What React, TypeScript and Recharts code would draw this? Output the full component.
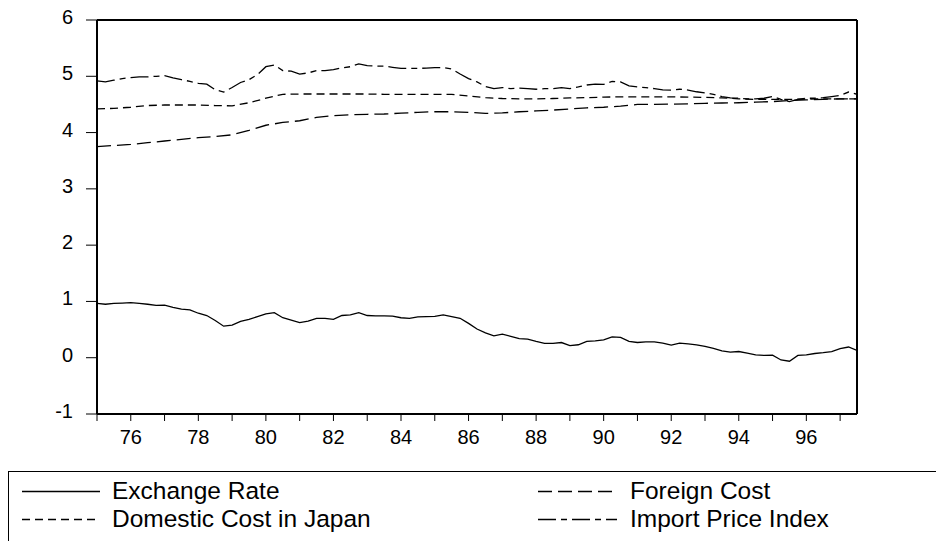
import React from "react";
import { LineChart, Line, XAxis, YAxis, ReferenceLine } from "recharts";

// quarterly series start in 1975Q1, half-yearly ones in 1975H1
const START_YEAR = 1975;

const exchangeRate = [
  0.967, 0.95, 0.965, 0.97, 0.978, 0.965, 0.95, 0.93,
  0.935, 0.896, 0.865, 0.85, 0.79, 0.75, 0.66, 0.56,
  0.58, 0.645, 0.68, 0.73, 0.78, 0.8, 0.71, 0.67,
  0.625, 0.65, 0.7, 0.7, 0.68, 0.75, 0.76, 0.8,
  0.75, 0.745, 0.745, 0.74, 0.71, 0.7, 0.725, 0.73,
  0.735, 0.76, 0.73, 0.7, 0.61, 0.51, 0.44, 0.39,
  0.42, 0.38, 0.34, 0.33, 0.29, 0.255, 0.255, 0.27,
  0.215, 0.23, 0.29, 0.3, 0.315, 0.37, 0.36, 0.29,
  0.27, 0.28, 0.28, 0.26, 0.225, 0.26, 0.245, 0.23,
  0.2, 0.165, 0.12, 0.1, 0.11, 0.08, 0.05, 0.04,
  0.045, -0.04, -0.063, 0.04, 0.05, 0.075, 0.09, 0.11,
  0.16, 0.19, 0.13,
];

const importPriceIndex = [
  4.92, 4.9, 4.93, 4.96, 4.975, 4.99, 4.99, 5.0,
  5.01, 4.97, 4.94, 4.91, 4.875, 4.86, 4.76, 4.72,
  4.8, 4.89, 4.94, 5.03, 5.17, 5.2, 5.1, 5.09,
  5.04, 5.06, 5.1, 5.1, 5.12, 5.15, 5.17, 5.22,
  5.19, 5.18, 5.18, 5.16, 5.14, 5.14, 5.14, 5.145,
  5.155, 5.155, 5.13, 5.04, 4.96, 4.9, 4.82, 4.78,
  4.8, 4.78, 4.79, 4.78, 4.77, 4.78, 4.78, 4.8,
  4.78, 4.81, 4.845, 4.86, 4.855, 4.91, 4.9, 4.83,
  4.81, 4.8, 4.78, 4.76, 4.755, 4.77, 4.755, 4.725,
  4.705, 4.68, 4.64, 4.615, 4.61, 4.6, 4.6, 4.61,
  4.64, 4.59, 4.55, 4.59, 4.61, 4.61, 4.62, 4.64,
  4.66, 4.72, 4.68,
];

const domesticCost = [
  4.42, 4.43, 4.45, 4.48, 4.49, 4.49, 4.49, 4.48, 4.475, 4.53,
  4.61, 4.68, 4.685, 4.685, 4.685, 4.685, 4.685, 4.68, 4.68, 4.68,
  4.68, 4.68, 4.65, 4.62, 4.605, 4.6, 4.6, 4.605, 4.615, 4.62,
  4.63, 4.635, 4.635, 4.635, 4.635, 4.63, 4.625, 4.615, 4.6, 4.59,
  4.59, 4.59, 4.595, 4.6, 4.6, 4.6,
];

const foreignCost = [
  3.75, 3.77, 3.79, 3.82, 3.85, 3.88, 3.91, 3.93, 3.96, 4.04,
  4.13, 4.18, 4.21, 4.27, 4.3, 4.315, 4.325, 4.33, 4.345, 4.36,
  4.37, 4.37, 4.36, 4.34, 4.35, 4.37, 4.385, 4.4, 4.42, 4.44,
  4.45, 4.47, 4.5, 4.5, 4.505, 4.51, 4.52, 4.525, 4.53, 4.54,
  4.55, 4.57, 4.58, 4.59, 4.6, 4.6,
];

const yearTicks = [
  1975, 1976, 1977, 1978, 1979, 1980, 1981, 1982, 1983, 1984, 1985, 1986,
  1987, 1988, 1989, 1990, 1991, 1992, 1993, 1994, 1995, 1996, 1997,
];
const valueTicks = [-1, 0, 1, 2, 3, 4, 5, 6];

const FONT = '"Liberation Sans", Arial, sans-serif';

const DASH_DOMESTIC = "8 5";
const DASH_FOREIGN = "14 6";
const DASH_IMPORT = "18 5 6 5";

const quarterly = (vals: number[]) =>
  vals.map((v, i) => ({ t: START_YEAR + i / 4, v }));
const halfYearly = (vals: number[]) =>
  vals.map((v, i) => ({ t: START_YEAR + i / 2, v }));

const YTick = ({ x, y, payload }: any) => (
  <text x={x} y={y} dy={4} textAnchor="end" fontSize={20} fontFamily={FONT} fill="#000">
    {payload.value}
  </text>
);

const Legend = () => (
  <svg
    width={936}
    height={81}
    style={{ position: "absolute", left: 0, top: 460 }}
    fontFamily={FONT}
    fontSize={24.5}
  >
    <rect x={8.5} y={11.5} width={960} height={120} fill="none" stroke="#000" strokeWidth={1} />
    <line x1={22} x2={100} y1={31.5} y2={31.5} stroke="#000" strokeWidth={1.3} />
    <text x={112} y={39}>Exchange Rate</text>
    <line x1={22} x2={100} y1={59.5} y2={59.5} stroke="#000" strokeWidth={1.3} strokeDasharray={DASH_DOMESTIC} />
    <text x={112} y={67}>Domestic Cost in Japan</text>
    <line x1={538} x2={617} y1={31.5} y2={31.5} stroke="#000" strokeWidth={1.3} strokeDasharray={DASH_FOREIGN} />
    <text x={630} y={39}>Foreign Cost</text>
    <line x1={538} x2={617} y1={59.5} y2={59.5} stroke="#000" strokeWidth={1.3} strokeDasharray={DASH_IMPORT} />
    <text x={630} y={67}>Import Price Index</text>
  </svg>
);

export default function App() {
  return (
    <div
      style={{
        position: "absolute",
        left: 0,
        top: 0,
        width: 936,
        height: 541,
        overflow: "hidden",
        background: "#fff",
      }}
    >
      <LineChart width={936} height={541} margin={{ top: 20, right: 79, bottom: 87, left: 0 }}>
        <XAxis
          dataKey="t"
          type="number"
          domain={[1975, 1997.5]}
          ticks={yearTicks}
          interval={0}
          tickFormatter={(v: number) => (v % 2 === 0 ? String(v).slice(2) : "")}
          height={40}
          tickSize={7}
          tickMargin={9}
          axisLine={{ stroke: "#000", strokeWidth: 2 }}
          tickLine={{ stroke: "#000", strokeWidth: 1 }}
          tick={{ fill: "#000", fontSize: 20, fontFamily: FONT }}
          allowDataOverflow
        />
        <YAxis
          type="number"
          domain={[-1, 6]}
          ticks={valueTicks}
          interval={0}
          width={97}
          tickSize={11}
          tickMargin={13}
          axisLine={{ stroke: "#000", strokeWidth: 2 }}
          tickLine={{ stroke: "#000", strokeWidth: 1 }}
          tick={<YTick />}
        />
        <ReferenceLine y={6} stroke="#000" strokeWidth={2} />
        <ReferenceLine x={1997.5} stroke="#000" strokeWidth={2} />
        <Line
          data={quarterly(exchangeRate)}
          dataKey="v"
          name="Exchange Rate"
          type="linear"
          stroke="#000"
          strokeWidth={1.3}
          dot={false}
          isAnimationActive={false}
        />
        <Line
          data={halfYearly(foreignCost)}
          dataKey="v"
          name="Foreign Cost"
          type="linear"
          stroke="#000"
          strokeWidth={1.3}
          strokeDasharray={DASH_FOREIGN}
          dot={false}
          isAnimationActive={false}
        />
        <Line
          data={halfYearly(domesticCost)}
          dataKey="v"
          name="Domestic Cost in Japan"
          type="linear"
          stroke="#000"
          strokeWidth={1.3}
          strokeDasharray={DASH_DOMESTIC}
          dot={false}
          isAnimationActive={false}
        />
        <Line
          data={quarterly(importPriceIndex)}
          dataKey="v"
          name="Import Price Index"
          type="linear"
          stroke="#000"
          strokeWidth={1.3}
          strokeDasharray={DASH_IMPORT}
          dot={false}
          isAnimationActive={false}
        />
      </LineChart>
      <Legend />
    </div>
  );
}
